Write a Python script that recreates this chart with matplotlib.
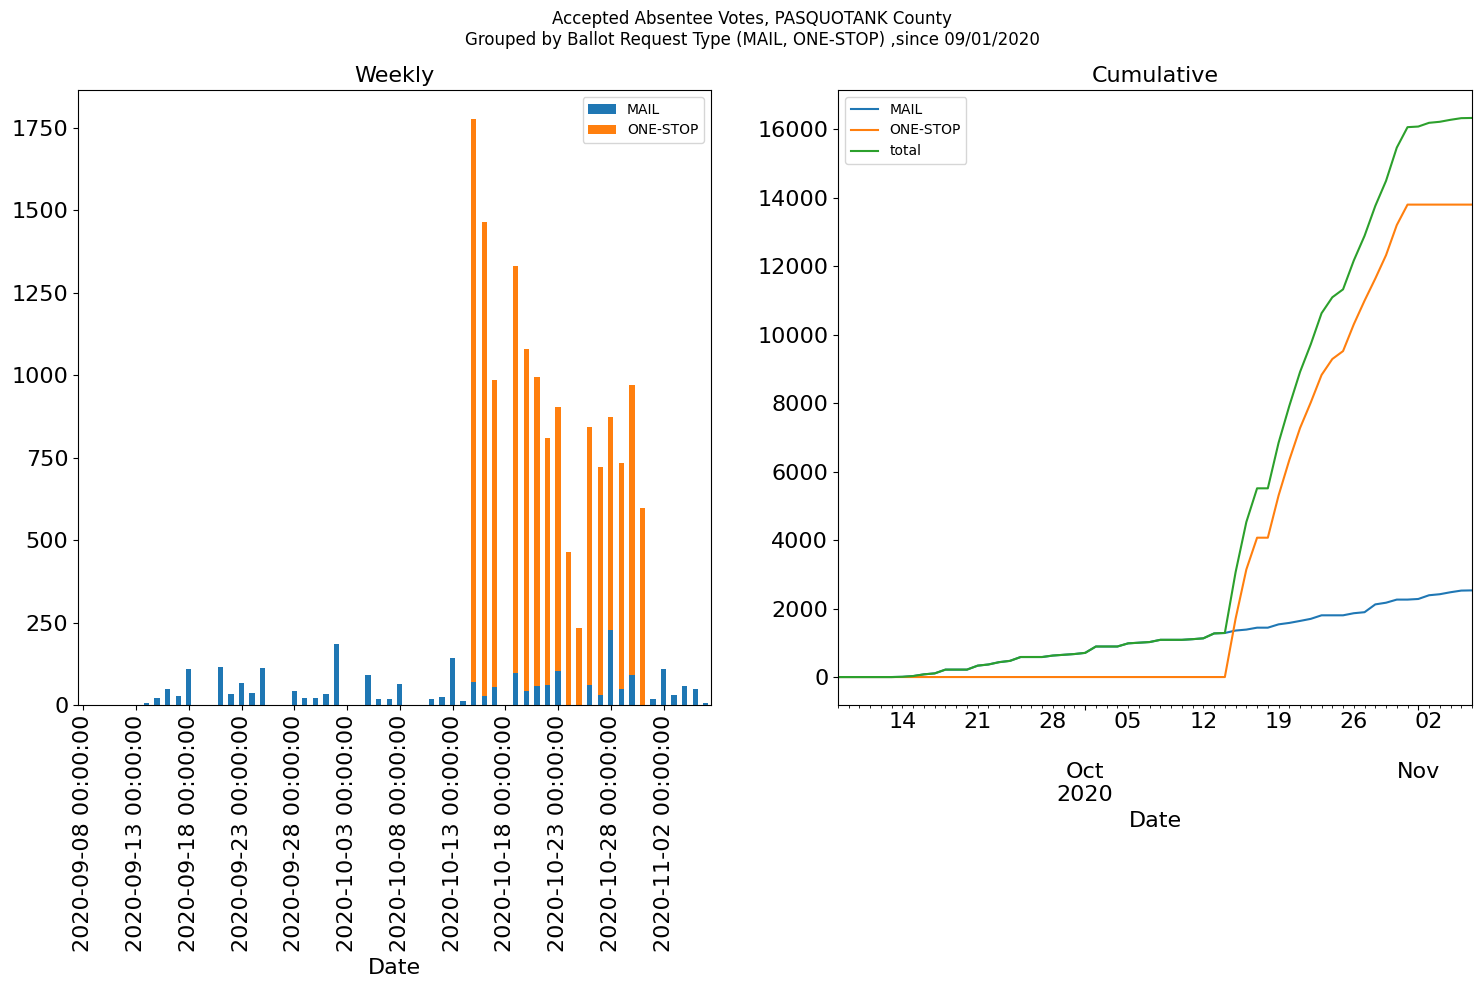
import numpy as np
import pandas as pd
import matplotlib
matplotlib.use("Agg")
import matplotlib.pyplot as plt
import matplotlib.dates as mdates
from matplotlib.ticker import FuncFormatter, FixedLocator

# ---- data ----
start_date = "2020-09-08"
n_days = 60
dates = pd.date_range(start_date, periods=n_days, freq="D")

mail = [0, 0, 0, 0, 0, 0, 7, 22, 50, 28,
        110, 0, 0, 116, 34, 68, 37, 113, 0, 0,
        43, 22, 22, 34, 186, 0, 0, 92, 19, 19,
        65, 0, 0, 19, 25, 143, 13, 71, 28, 56,
        0, 97, 42, 58, 61, 103, 0, 0, 61, 30,
        228, 49, 91, 0, 18, 109, 30, 58, 48, 6]

one_stop = [0] * 37 + [1704, 1437, 929, 0, 1233, 1036, 935, 749, 800, 465,
                       232, 782, 690, 645, 684, 879, 598] + [0] * 6

series_names = ["MAIL", "ONE-STOP"]
colors = ["#1f77b4", "#ff7f0e", "#2ca02c"]

mail_a = np.array(mail)
one_a = np.array(one_stop)
cum_mail = np.cumsum(mail_a)
cum_one = np.cumsum(one_a)
cum_total = cum_mail + cum_one

# ---- figure ----
fig = plt.figure(figsize=(14.81, 9.88), dpi=100)
W, H = 1481, 988


def axpos(x0, x1, y0, y1):
    return [x0 / W, 1 - y1 / H, (x1 - x0) / W, (y1 - y0) / H]


ax1 = fig.add_axes(axpos(78, 711, 90, 705))
ax2 = fig.add_axes(axpos(838, 1472, 90, 705))

fig.text(752 / W, 1 - 10 / H,
         "Accepted Absentee Votes, PASQUOTANK County\n"
         "Grouped by Ballot Request Type (MAIL, ONE-STOP) ,since 09/01/2020",
         ha="center", va="top", fontsize=12)

# ---- left: daily stacked bars ----
pos = np.arange(n_days)
ax1.bar(pos, mail_a, width=0.5, color=colors[0], label=series_names[0])
ax1.bar(pos, one_a, width=0.5, bottom=mail_a, color=colors[1], label=series_names[1])
ax1.set_xlim(-0.5, n_days - 0.5)
tick_idx = list(range(0, n_days, 5))
ax1.set_xticks(tick_idx)
ax1.set_xticklabels([dates[i].strftime("%Y-%m-%d %H:%M:%S") for i in tick_idx],
                    rotation=90)
ax1.tick_params(labelsize=16)
ax1.set_title("Weekly", fontsize=16)
ax1.set_xlabel("Date", fontsize=16)
ax1.legend(loc="upper right", fontsize=10)

# ---- right: cumulative lines ----
ax2.plot(dates, cum_mail, color=colors[0], label="MAIL")
ax2.plot(dates, cum_one, color=colors[1], label="ONE-STOP")
ax2.plot(dates, cum_total, color=colors[2], label="total")
ax2.set_xlim(dates[0], dates[-1])

month_starts = [d for d in pd.date_range(dates[0], dates[-1], freq="D") if d.day == 1]
ax2.xaxis.set_major_locator(FixedLocator([mdates.date2num(d) for d in month_starts]))
first_month = month_starts[0].month if month_starts else None


def major_fmt(x, p):
    d = mdates.num2date(x)
    if d.month == first_month:
        return d.strftime("%b") + "\n" + d.strftime("%Y")
    return d.strftime("%b")


def minor_fmt(x, p):
    d = mdates.num2date(x)
    return d.strftime("%d") if d.weekday() == 0 else ""


ax2.xaxis.set_major_formatter(FuncFormatter(major_fmt))
ax2.xaxis.set_minor_locator(mdates.DayLocator())
ax2.xaxis.set_minor_formatter(FuncFormatter(minor_fmt))
ax2.tick_params(axis="both", which="both", labelsize=16)
ax2.tick_params(axis="x", which="major", pad=37.5)
ax2.set_title("Cumulative", fontsize=16)
ax2.set_xlabel("Date", fontsize=16)
ax2.legend(loc="upper left", fontsize=10)

fig.savefig("out.png", dpi=100)
